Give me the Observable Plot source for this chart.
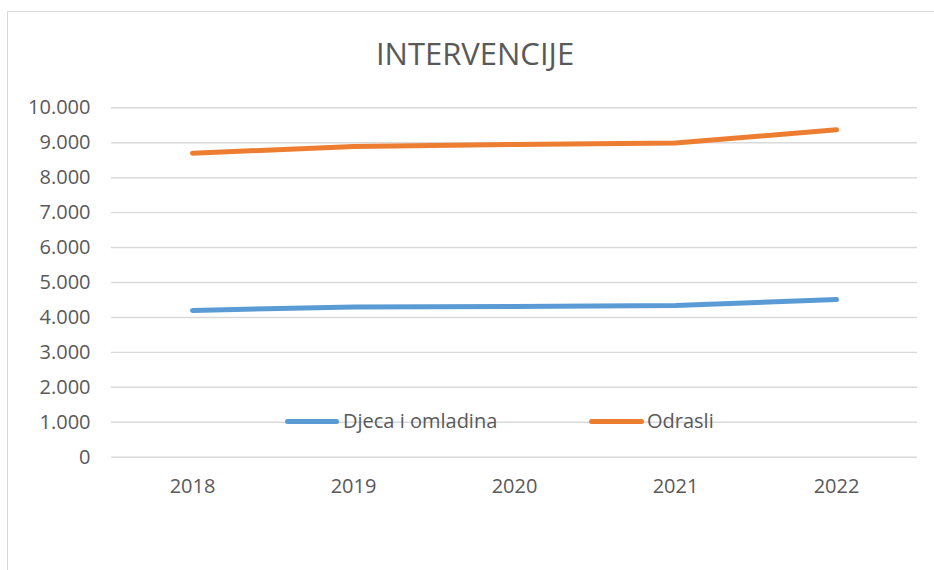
<!DOCTYPE html>
<html>
<head>
<meta charset="utf-8">
<script src="https://cdn.jsdelivr.net/npm/d3@7"></script>
<script src="https://cdn.jsdelivr.net/npm/@observablehq/plot@0.6"></script>
<style>
  html, body { margin: 0; padding: 0; background: #fff; width: 934px; height: 570px; overflow: hidden; }
  body { position: relative; font-family: "Open Sans", sans-serif; color: #595959; }
  #frame { position: absolute; left: 7px; top: 11px; width: 1000px; height: 700px; border: 1px solid #d9d9d9; box-sizing: border-box; }
  #title { position: absolute; left: 7px; width: 936px; top: 32px; text-align: center; font-size: 31px; line-height: normal; color: #595959; }
  #chart { position: absolute; left: 0; top: 90px; }
  .leg { position: absolute; top: 407px; font-size: 20px; line-height: normal; color: #595959; white-space: nowrap; }
  .sw { position: absolute; height: 5px; border-radius: 3px; top: 419px; }
</style>
</head>
<body>
<div id="frame"></div>
<div id="title">INTERVENCIJE</div>
<div id="chart"></div>
<div class="sw" style="left:285px;width:54px;background:#5B9BD5"></div>
<div class="leg" style="left:343px">Djeca i omladina</div>
<div class="sw" style="left:589px;width:55px;background:#ED7D31"></div>
<div class="leg" style="left:647px">Odrasli</div>
<script>
const years = ["2018", "2019", "2020", "2021", "2022"];
const djecaIOmladina = [4200, 4300, 4310, 4340, 4510];
const odrasli = [8700, 8890, 8950, 8990, 9370];
const seriesNames = ["Djeca i omladina", "Odrasli"];
const seriesColors = ["#5B9BD5", "#ED7D31"];
const yTicks = [0, 1000, 2000, 3000, 4000, 5000, 6000, 7000, 8000, 9000, 10000];

const data = [
  ...years.map((y, i) => ({year: y, value: djecaIOmladina[i], series: seriesNames[0]})),
  ...years.map((y, i) => ({year: y, value: odrasli[i], series: seriesNames[1]}))
];

const loc = d3.formatLocale({decimal: ",", thousands: ".", grouping: [3], currency: ["", ""]});
const fmt = loc.format(",d");

const chart = Plot.plot({
  width: 934,
  height: 420,
  marginLeft: 111,
  marginRight: 17,
  marginTop: 17.3,
  marginBottom: 53.3,
  style: {fontFamily: "'Open Sans', sans-serif", fontSize: "20px", color: "#595959", background: "transparent"},
  x: {type: "point", domain: years, padding: 0.5, label: null},
  y: {domain: [0, 10000], label: null},
  color: {domain: seriesNames, range: seriesColors},
  marks: [
    Plot.gridY(yTicks, {stroke: "#d9d9d9", strokeOpacity: 1, strokeWidth: 1.4}),
    Plot.axisY(yTicks, {tickSize: 0, tickPadding: 21, tickFormat: fmt, fill: "#595959", fontSize: 20, label: null}),
    Plot.axisX(years, {tickSize: 0, tickPadding: 22, fill: "#595959", fontSize: 20, label: null}),
    Plot.line(data, {x: "year", y: "value", z: "series", stroke: "series", strokeWidth: 5, strokeLinecap: "round", strokeLinejoin: "round"})
  ]
});
document.getElementById("chart").appendChild(chart);
</script>
</body>
</html>
